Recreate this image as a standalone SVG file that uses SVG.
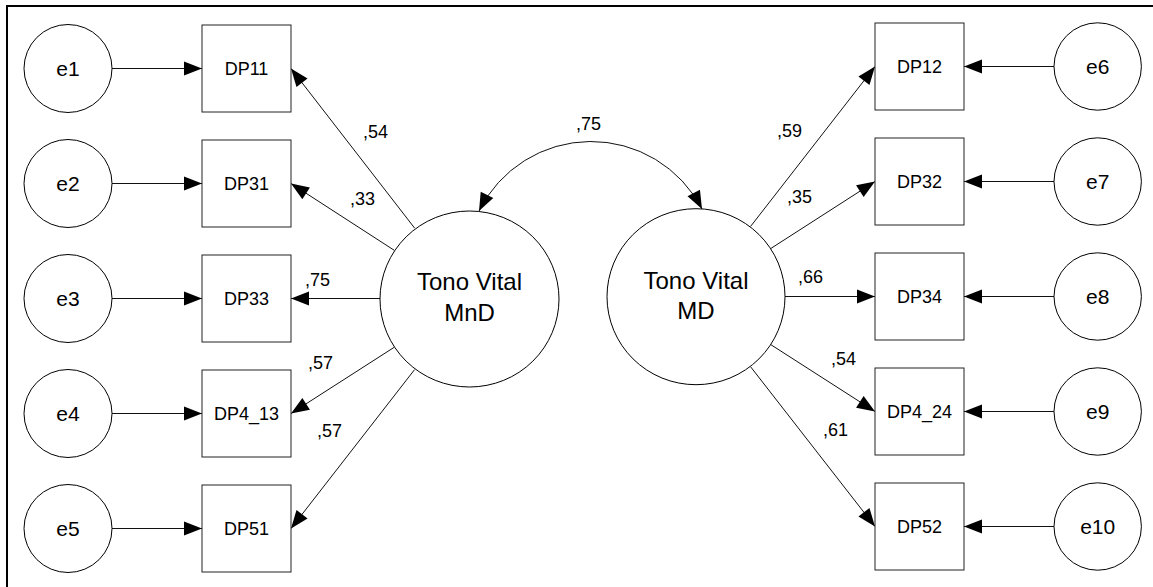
<svg xmlns="http://www.w3.org/2000/svg" width="1153" height="587" viewBox="0 0 1153 587">
<style>
.bg{fill:#fff}
.frame{stroke:#000;stroke-width:2;fill:none}
.obs{fill:#fff;stroke:#222;stroke-width:1}
.lat{fill:#fff;stroke:#000;stroke-width:1}
.lbl{font-family:"Liberation Sans",Arial,sans-serif;font-size:18px;fill:#000;text-anchor:middle}
.elbl{font-family:"Liberation Sans",Arial,sans-serif;font-size:21px;fill:#000;text-anchor:middle}
.big{font-family:"Liberation Sans",Arial,sans-serif;font-size:24px;fill:#000;text-anchor:middle}
.num{font-family:"Liberation Sans",Arial,sans-serif;font-size:18px;fill:#000}
.edge{stroke:#111;stroke-width:1;fill:none;marker-end:url(#ah)}
.cov{stroke:#111;stroke-width:1;fill:none;marker-start:url(#ahs);marker-end:url(#ah)}
</style>
<defs>
<marker id="ah" markerUnits="userSpaceOnUse" markerWidth="18" markerHeight="14" refX="18" refY="7" orient="auto" overflow="visible"><path d="M0,0 L18,7 L0,14 z" fill="#000"/></marker>
<marker id="ahs" markerUnits="userSpaceOnUse" markerWidth="18" markerHeight="14" refX="18" refY="7" orient="auto-start-reverse" overflow="visible"><path d="M0,0 L18,7 L0,14 z" fill="#000"/></marker>
</defs>
<rect class="bg" x="0" y="0" width="1153" height="587"/>
<path class="frame" d="M7,587 V6 H1153"/>

<g id="connectors">
<line class="edge" x1="112" y1="68.5" x2="202" y2="68.5"/>
<line class="edge" x1="112" y1="183.5" x2="202" y2="183.5"/>
<line class="edge" x1="112" y1="298.5" x2="202" y2="298.5"/>
<line class="edge" x1="112" y1="413.5" x2="202" y2="413.5"/>
<line class="edge" x1="112" y1="528.5" x2="202" y2="528.5"/>
<line class="edge" x1="1054" y1="66.5" x2="964" y2="66.5"/>
<line class="edge" x1="1054" y1="181.5" x2="964" y2="181.5"/>
<line class="edge" x1="1054" y1="296.5" x2="964" y2="296.5"/>
<line class="edge" x1="1054" y1="411.5" x2="964" y2="411.5"/>
<line class="edge" x1="1054" y1="526.5" x2="964" y2="526.5"/>
<line class="edge" x1="414.7" y1="228.2" x2="291" y2="68.5"/>
<line class="edge" x1="394.4" y1="250.4" x2="291" y2="183.5"/>
<line class="edge" x1="380" y1="298.5" x2="291" y2="298.5"/>
<line class="edge" x1="394.2" y1="347.3" x2="291" y2="413.5"/>
<line class="edge" x1="414.5" y1="369.7" x2="291" y2="528.5"/>
<line class="edge" x1="750.6" y1="226.4" x2="875" y2="66.5"/>
<line class="edge" x1="770.8" y1="248.5" x2="875" y2="181.5"/>
<line class="edge" x1="785" y1="296.5" x2="875" y2="296.5"/>
<line class="edge" x1="770.9" y1="344.7" x2="875" y2="411.5"/>
<line class="edge" x1="750.7" y1="366.9" x2="875" y2="526.5"/>
<path class="cov" d="M479,211 A125,125 0 0 1 702,209"/>
<text class="num" x="363" y="138">,54</text>
<text class="num" x="350" y="205">,33</text>
<text class="num" x="305" y="286">,75</text>
<text class="num" x="308" y="369">,57</text>
<text class="num" x="317" y="437">,57</text>
<text class="num" x="576" y="130">,75</text>
<text class="num" x="777" y="137">,59</text>
<text class="num" x="787" y="203">,35</text>
<text class="num" x="798" y="283">,66</text>
<text class="num" x="831" y="365">,54</text>
<text class="num" x="823" y="436">,61</text>
</g>

<g id="e1"><circle class="lat" cx="68" cy="68.5" r="44"/><text class="elbl" x="68" y="76">e1</text></g>
<g id="e2"><circle class="lat" cx="68" cy="183.5" r="44"/><text class="elbl" x="68" y="191">e2</text></g>
<g id="e3"><circle class="lat" cx="68" cy="298.5" r="44"/><text class="elbl" x="68" y="306">e3</text></g>
<g id="e4"><circle class="lat" cx="68" cy="413.5" r="44"/><text class="elbl" x="68" y="421">e4</text></g>
<g id="e5"><circle class="lat" cx="68" cy="528.5" r="44"/><text class="elbl" x="68" y="536">e5</text></g>

<g id="DP11"><rect class="obs" x="202" y="25" width="89" height="87"/><text class="lbl" x="246.5" y="75">DP11</text></g>
<g id="DP31"><rect class="obs" x="202" y="140" width="89" height="87"/><text class="lbl" x="246.5" y="190">DP31</text></g>
<g id="DP33"><rect class="obs" x="202" y="255" width="89" height="87"/><text class="lbl" x="246.5" y="305">DP33</text></g>
<g id="DP4_13"><rect class="obs" x="202" y="370" width="89" height="87"/><text class="lbl" x="246.5" y="420">DP4_13</text></g>
<g id="DP51"><rect class="obs" x="202" y="485" width="89" height="87"/><text class="lbl" x="246.5" y="535">DP51</text></g>

<g id="MnD"><ellipse class="lat" cx="469.5" cy="299" rx="89.5" ry="88"/><text class="big" x="469.5" y="290">Tono Vital</text><text class="big" x="469.5" y="321">MnD</text></g>
<g id="MD"><ellipse class="lat" cx="696" cy="296.7" rx="89" ry="88"/><text class="big" x="696" y="289">Tono Vital</text><text class="big" x="696" y="318.5">MD</text></g>

<g id="DP12"><rect class="obs" x="875" y="23" width="89" height="87"/><text class="lbl" x="919.5" y="73">DP12</text></g>
<g id="DP32"><rect class="obs" x="875" y="138" width="89" height="87"/><text class="lbl" x="919.5" y="188">DP32</text></g>
<g id="DP34"><rect class="obs" x="875" y="253" width="89" height="87"/><text class="lbl" x="919.5" y="303">DP34</text></g>
<g id="DP4_24"><rect class="obs" x="875" y="368" width="89" height="87"/><text class="lbl" x="919.5" y="418">DP4_24</text></g>
<g id="DP52"><rect class="obs" x="875" y="483" width="89" height="87"/><text class="lbl" x="919.5" y="533">DP52</text></g>

<g id="e6"><circle class="lat" cx="1097.7" cy="66.5" r="43.7"/><text class="elbl" x="1097.7" y="74">e6</text></g>
<g id="e7"><circle class="lat" cx="1097.7" cy="181.5" r="43.7"/><text class="elbl" x="1097.7" y="189">e7</text></g>
<g id="e8"><circle class="lat" cx="1097.7" cy="296.5" r="43.7"/><text class="elbl" x="1097.7" y="304">e8</text></g>
<g id="e9"><circle class="lat" cx="1097.7" cy="411.5" r="43.7"/><text class="elbl" x="1097.7" y="419">e9</text></g>
<g id="e10"><circle class="lat" cx="1097.7" cy="526.5" r="43.7"/><text class="elbl" x="1097.7" y="534">e10</text></g>
</svg>
